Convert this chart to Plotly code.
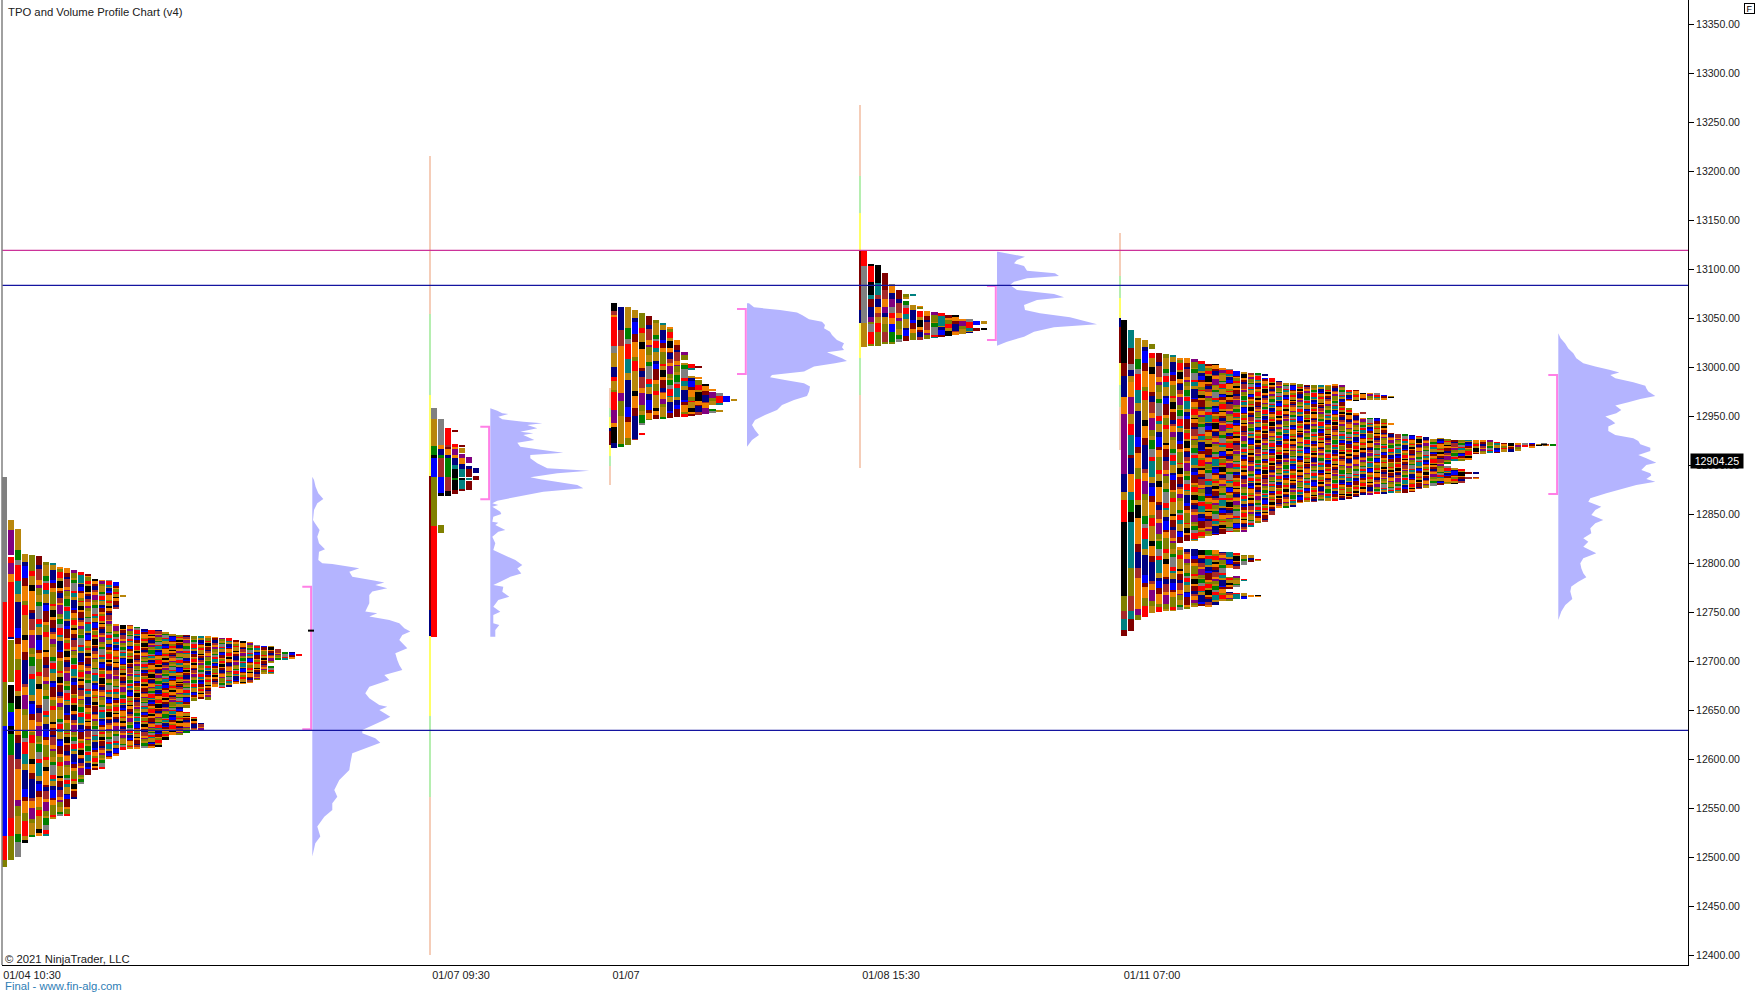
import plotly.graph_objects as go

# ---------- axis text ----------
title_text = "TPO and Volume Profile Chart (v4)"
copyright_text = "\u00a9 2021 NinjaTrader, LLC"
final_text = "Final - www.fin-alg.com"
time_labels = ["01/04 10:30", "01/07 09:30", "01/07", "01/08 15:30", "01/11 07:00"]
time_ticks = [32, 461, 626, 891, 1152]
last_price = 12904.25
level_magenta = 13119
level_blue = [13083.4, 12629.3]

# ---------- colours of TPO periods ----------
C = dict(k="#000000", t="#008080", m="#800000", b="#0000FF", w="#A52A2A", r="#FF0000", g="#B8860B",
         o="#F08000", p="#800080", l="#808000", n="#008000", a="#808080", v="#000080",
         S="#F5CDB8", G="#B5EEB0", Y="#FFFF66")
cycle = ["r", "g", "k", "o", "m", "v", "w", "o", "p", "l", "g", "n", "a", "r", "t", "g", "v", "b", "m", "o", "l"]
stripe = [3, 2, 4, 1, 2.5, 5, 1.5, 3, 2, 6, 1, 2, 3.5, 1.5, 4, 2, 1, 3, 2.5, 1.5, 5, 2, 1]

# ---------- session start slots ----------
session_left = [0.7, 431, 611, 861, 1121]

# ---------- TPO column extents: [hi, lo, hi, lo, ...] in price ----------
p1_cols = [
 [12888,12489.5],[12844,12497],[12835,12500.4],[12809,12515],[12808,12521],[12807,12521],[12801.4,12521],
 [12800,12539.5],[12796,12542],[12795,12542],[12793,12560],[12790.5,12575],[12789,12584],[12783,12589],
 [12783,12590],[12783,12601],[12781,12754,12738,12604],[12767,12766,12737,12609],[12737,12611],[12735,12611],
 [12733,12612],[12732,12612],[12731,12613],[12730,12619],[12728,12625],[12727,12625],[12727,12653,12648,12627],
 [12726,12660,12643,12630],[12725.5,12662,12636,12630],[12725,12660],[12724,12673],[12723,12673],[12723,12674],
 [12721,12677],[12720,12677],[12719,12678],[12716,12681],[12715,12687],[12715,12698,12695,12687],[12712,12702],
 [12709.5,12702],[12709.5,12703],[12707,12706]]
p1_first = {0: [(12888,12760,"a"),(12760,12679,"r"),(12679,12634,"l"),(12634,12521.5,"b"),(12521.5,12497,"r"),(12497,12489.5,"l")],
 1: [(12844,12833.7,"g"),(12833.7,12808,"p"),(12806,12800,"r"),(12800,12789,"p"),(12789,12781,"o"),(12781,12725,"r"),
     (12725,12722.5,"v"),(12721.5,12679,"l"),(12675.5,12657,"k"),(12657,12648,"n"),(12648,12634,"b"),(12634,12626,"k"),
     (12626,12604,"n"),(12604,12540,"w"),(12540,12521.5,"r"),(12521.5,12497,"l")]}
p2_first = {0: [(12958,12947,"a"),(12947,12919,"g"),(12919,12910,"n"),(12910,12907,"k"),(12907,12888,"b"),(12888,12838,"l"),(12838,12725,"r")],
 1: [(12947,12920,"a"),(12920,12916,"o"),(12916,12910,"v"),(12910,12907,"n"),(12907,12888,"w"),(12888,12871,"b"),(12871,12868,"k"),(12839,12831,"l")],
 2: [(12938,12920,"r"),(12920,12918,"w"),(12918,12916,"m"),(12916,12910,"o"),(12910,12907,"v"),(12907,12888,"n"),(12888,12873,"w"),(12873,12868,"k")],
 3: [(12935,12934,"m"),(12921.4,12918,"r"),(12918,12916,"o"),(12916,12910,"p"),(12910,12907,"o"),(12907,12900,"v"),(12900,12896,"t"),(12896,12886,"k"),(12886,12885,"n"),(12885,12874,"k"),(12874,12870.4,"m")],
 4: [(12920,12919,"m"),(12917,12912,"g"),(12911,12907,"p"),(12907,12901,"o"),(12901,12896,"v"),(12896,12888,"t"),(12887,12885,"k"),(12885,12876,"t"),(12876,12874,"m")],
 5: [(12908,12902,"p"),(12899,12896,"v"),(12896,12888,"m"),(12887,12885,"t"),(12884,12875,"m")],
 6: [(12897,12892,"v"),(12889,12885,"m")]}
p2_cols = [[0,0]] * 7
p3_cols = [
 [13065.7,12917.7],[13061.6,12918.7],[13061,12920.5],[13058,12925.6],[13055.5,12941,12933,12930.3],[13052,12946],
 [13048,12946.6],[13045,12947.7],[13041,12947.7],[13027.6,12948.7],[13015.7,13007,13004,12950],[13003,12997,12991,12951],
 [13001,12999.7,12989.5,12988.5,12986.8,12951],[12982.7,12952],[12978,12976,12974,12961,12957,12953.4],
 [12973,12961,12956,12954.5],[12970.4,12964],[12967.4,12965.3]]
p3_first = {0: [(13065.7,13057.5,"k"),(13057.5,13053,"w"),(13053,13051.4,"o"),(13051.4,13021.5,"r"),(13021.5,13014,"a"),(13014,12999.7,"g"),
     (12999.7,12990,"v"),(12990,12986,"r"),(12986,12976.6,"g"),(12976.6,12974,"l"),(12974,12956,"r"),(12956,12943,"p"),(12943,12938.5,"o"),(12938.5,12922,"k"),(12922,12917.7,"v")]}
p4_cols = [
 [13118.7,13020.8],[13105,13021.4],[13104,13021.4],[13096,13023.5],[13084.7,13024],[13079,13025.9],[13074.5,13069,13067.4,13026.9],
 [13074.5,13072.8,13063,13027.6],[13062,13060,13057,13028],[13057,13029],[13056,13030.3],[13055,13031],[13053,13031.7],
 [13053,13032.7],[13049,13033.7],[13048.7,13035],[13047,13043,13040,13037],[13047,13044,13039.8,13037.8]]
p4_first = {0: [(13118.7,13103,"r"),(13103,13044.5,"a"),(13044.5,13020.8,"g")],
 1: [(13105.2,13103.1,"k"),(13103.1,13086.8,"r"),(13086.8,13073.5,"k"),(13073.5,13069.1,"t"),(13069.1,13061.6,"m"),(13061.6,13050.8,"v"),(13050.8,13046.3,"p"),(13046.3,13044,"l"),(13044,13036.1,"a"),(13036.1,13022.5,"r"),(13022.5,13021.5,"l")],
 2: [(13104.1,13086.1,"k"),(13086.1,13073.5,"t"),(13073.5,13069.1,"w"),(13069.1,13061.6,"v"),(13061.6,13055.5,"o"),(13055.5,13050.8,"w"),(13050.8,13045.3,"g"),(13044.5,13036.1,"r"),(13036.1,13021.5,"l")],
 3: [(13095.6,13078.6,"m"),(13078.6,13069.1,"w"),(13069.1,13061.6,"o"),(13061.6,13054.8,"p"),(13054.8,13050.8,"v"),(13050.8,13044,"g"),(13044,13036.1,"l"),(13036.1,13025.9,"w"),(13025.9,13023.2,"l")],
 4: [(13084.8,13082.7,"a"),(13082.7,13075.2,"o"),(13075.2,13069.1,"v"),(13069.1,13061.6,"p"),(13061.6,13055.5,"a"),(13055.5,13049.7,"r"),(13049.7,13044,"o"),(13044,13036.1,"b"),(13035.5,13025.9,"n"),(13025.9,13023.5,"l")]}
p5_cols = [
 [13048,12725.6],[13037.8,12731],[13030,12742],[13028,12744.6],[13023.5,13018,13014,12748.7],[13014,12750.4],[13013,12751.4],
 [13012,12751.4],[13009,12820,12816,12752.8],[13009,12822,12814,12753.8],[13008,12823,12814,12755.5],[13006,12826,12813,12756],
 [13003,12828,12813,12756],[13003,12828.6,12813,12757],[12999,12830,12811.6,12762],[12998,12832,12811.6,12794.6,12786,12774,12770.8,12762],
 [12996,12832,12810.6,12794.6,12786,12776,12769.8,12763],[12995,12832,12808,12798,12783.4,12782,12769,12764],
 [12994,12837,12808,12801.4,12767.4,12765.7],[12993.6,12841,12803.8,12802.4,12767.4,12765.7],[12993,12990.9,12988.5,12842],
 [12988.5,12849],[12985,12856],[12984,12857],[12984,12857.5],[12983,12861.6],[12981.7,12862.6],[12981.7,12862.6],[12981.7,12863.7],
 [12981.7,12863.7],[12981.7,12863.7],[12980.7,12865],[12977,12965.7,12957.9,12866],[12976.6,12965.7,12953.4,12867.7],
 [12973.8,12966.4,12953.4,12952.4,12947.7,12869.4],[12973,12967,12947.7,12869.4],[12972.5,12967,12947.7,12870.5],
 [12971.5,12967,12946.6,12871],[12970.5,12968.8,12942.6,12941.5,12932,12871.8],[12931.3,12871.8],[12931.3,12871.8],[12930.7,12872.8],
 [12929.6,12876],[12928.3,12877],[12927,12878.6],[12927,12879.6],[12927,12901.8,12898.4,12880.7],[12926,12904.5,12896.7,12880.7],
 [12926,12905,12895,12882],[12925.6,12905.8,12892,12890.9,12887.5,12886],[12926,12912,12892,12890.9,12887.5,12886],[12925.6,12912],
 [12924.9,12912.6],[12923,12912.6],[12922,12913.7],[12922,12913.7],[12922,12915],[12922,12918],[12922,12918],[12921,12919.8],[12921,12919.8],[12921,12920.4]]
p5_first = {0: [(13048,13003.8,"k"),(13003.8,12990.9,"m"),(12990.9,12969.8,"v"),(12969.8,12952,"o"),(12952,12890.9,"p"),(12890.9,12872.8,"v"),
     (12872.8,12864,"g"),(12864,12842,"r"),(12842,12766.4,"k"),(12766.4,12751.4,"l"),(12751.4,12743,"w"),(12743,12731.7,"t"),(12731.7,12725.6,"m")],
 1: [(13037.8,13019,"t"),(13019,13003,"m"),(13003,12997,"a"),(12997,12990.9,"v"),(12990.9,12985,"g"),(12985,12969.8,"o"),(12969.8,12952,"p"),
     (12952,12941.9,"g"),(12941.9,12930.7,"r"),(12930.7,12910,"t"),(12910,12907.5,"m"),(12907.5,12890.9,"v"),(12890.9,12872.8,"o"),
     (12872.8,12864,"t"),(12864,12852.4,"n"),(12852.4,12842,"k"),(12842,12794.6,"t"),(12794.6,12766.4,"l"),(12766.4,12751.4,"w"),(12751.4,12743,"t"),(12743,12731,"m")]}

profile_cols = [p1_cols, p2_cols, p3_cols, p4_cols, p5_cols]
profile_first = [p1_first, p2_first, p3_first, p4_first, p5_first]
profile_min_stripe = [0.75, 2, 1.8, 1.6, 0.75]

# ---------- session bands: (hi, lo, colour) ----------
band_x = [430, 610, 860, 1120]
band_segments = [
 [(13215,13054,"S"),(13054,12971.5,"G"),(12971.5,12889,"Y"),(12889,12752,"m"),(12752,12725.5,"v"),(12725.5,12644,"Y"),(12644,12561,"G"),(12561,12400,"S")],
 [(12979,12958,"S"),(12958,12949,"G"),(12949,12938,"Y"),(12938,12935,"v"),(12935,12920,"m"),(12920,12909,"Y"),(12909,12899,"G"),(12899,12880,"S")],
 [(13267.4,13194.9,"S"),(13194.9,13157,"G"),(13157,13119.4,"Y"),(13119.4,13058.2,"m"),(13058.2,13044.9,"v"),(13044.9,13009.2,"Y"),(13009.2,12971.4,"G"),(12971.4,12897,"S")],
 [(13136.7,13092.9,"S"),(13092.9,13070.4,"G"),(13070.4,13050,"Y"),(13050,13040.8,"v"),(13040.8,13004,"m"),(13004,12981.6,"Y"),(12981.6,12959.2,"G"),(12959.2,12915.3,"S")],
]

# ---------- volume profiles ----------
vp_base = [312.3, 490.3, 747, 997, 1558.3]
vp1_price = [12888.1,12884.7,12877.9,12871.1,12865.3,12860.9,12854.1,12843.9,12840.5,12833.7,12826.9,12820.1,12814,12811.6,12803.1,12799.7,12799,12797,12794.6,12791.2,12786.1,12782,12780,12777.6,12774.2,12770.8,12767.4,12758.9,12750.4,12748.7,12745.3,12741.9,12738.4,12733.3,12730,12726.5,12721.4,12712.9,12707.8,12701,12695.9,12690.8,12685.7,12680.6,12673.8,12667,12661.9,12655.1,12653.4,12650,12643.2,12639.8,12633,12629.6,12626.2,12621.1,12616.7,12612.6,12605.8,12595.6,12588.8,12578.6,12568.4,12561.6,12554.8,12548,12541.2,12531,12520.8,12514,12500.4]
vp1_vol = [0,1.7,3.3,6,11,5,1.7,0.7,2.7,7.3,5,6.7,12.7,6.7,6,10,20,33,47,37,40,63,72,63,75,60,57,57,53,65,57,77,87,92,98,90,87,95,83,85,87,90,72,77,57,53,57,67,75,67,78,72,57,50,50,63,68,57,40,38,37,27,22,25,20,20,12,5,8,3,0]
vp2_price = [12957.8,12955.4,12952.7,12952,12949.3,12946.6,12944.2,12942.5,12940.8,12937.4,12934,12932.3,12930.6,12925.5,12922.8,12918.7,12916,12912.6,12910.2,12906.8,12901.7,12896.6,12894.2,12891.5,12887.4,12885.4,12879.6,12876.2,12872.8,12867.7,12863.6,12860.9,12859.2,12857.5,12852.4,12850,12847.3,12842.2,12841.1,12838.8,12833.7,12832,12826.9,12820.1,12813.3,12809.9,12803,12797.9,12794.5,12789.4,12786,12780.9,12777.5,12775.8,12770.7,12765.6,12762.2,12755.4,12750.3,12746.9,12738.4,12736.7,12731.6,12724.8]
vp2_vol = [0,7,12,18,8,12,33,52,37,47,30,43,33,44,27,30,47,73,40,40,47,57,99,67,40,50,87,93,53,27,7,2,8,2,10,11,3,2,8,5,15,8,2,5,3,10,25,32,27,31,20,10,3,13,12,19,8,3,10,3,3,9,5,5]
vp3_price = [13065,13060.9,13058.2,13055.5,13053.1,13048.7,13046.3,13042.9,13039.5,13036.1,13032.7,13027.6,13024.2,13020.1,13017.4,13015,13012.3,13008.9,13006.2,13003.8,13000.4,12995.3,12991.9,12989.5,12986.8,12983.4,12980,12974.9,12970.4,12966.4,12961.3,12956.2,12951.1,12946,12940.9,12935.8,12930.6,12925.6,12918.7]
vp3_vol = [2,7,33,50,55,62,75,78,77,83,85,90,97,95,97,80,87,95,100,88,67,57,25,23,38,57,63,62,60,47,35,30,18,8,5,8,12,5,0]
vp4_price = [13117.7,13115.3,13112.6,13109.2,13105.8,13103.1,13098.3,13095.6,13092.9,13090.5,13087.1,13083.7,13078.6,13074.5,13071.1,13068.4,13063.3,13058.2,13054.8,13050.7,13046.3,13043.6,13040.5,13036.1,13031,13025.9,13021.8]
vp4_vol = [1,13,28,20,17,27,30,58,62,30,17,13,20,57,67,40,27,28,43,73,90,100,57,37,27,10,0]
vp5_price = [13034.4,13029.3,13024.2,13019,13014,13008.9,13003.8,13000.4,12997,12994.3,12991.9,12988.5,12984.4,12981,12978.3,12974.9,12970.5,12967.4,12964,12960.6,12956.2,12952.8,12949.4,12946,12942.6,12939.2,12934.8,12930.7,12927.3,12924.5,12921.2,12917.7,12914.3,12910.3,12906.9,12902.4,12900,12895,12891.6,12889.2,12885.8,12883,12879.7,12876.3,12871.1,12866,12862.6,12857.5,12854.1,12849,12844,12840.5,12835.4,12830.3,12825.2,12821.8,12816.7,12809.9,12804.8,12799.7,12794.6,12789.5,12785.4,12781,12775.9,12770.8,12763.3,12757.2,12750.4,12741.9,12736.8]
vp5_vol = [0,2.3,6.7,10,15,18,25,37,52,61,52,57,75,87,88,90,97,82,70,57,63,58,47,53,57,50,50,57,75,80,82,92,92,80,88,98,88,83,92,93,88,97,78,65,48,32,30,43,37,33,45,37,32,33,25,30,25,38,25,22,23,25,28,20,13,12,14,7,3,0,0]
vp_prices = [vp1_price, vp2_price, vp3_price, vp4_price, vp5_price]
vp_vols = [vp1_vol, vp2_vol, vp3_vol, vp4_vol, vp5_vol]
value_high = [12775.8, 12939, 13059.2, 13082.7, 12991.9]
value_low = [12630.3, 12865, 12992.9, 13027.6, 12870.5]
poc_x0 = [308, 1541]
poc_x1 = [314, 1547]
poc_price = [12731, 12921]

SPACING = 7.03
CELL = 6.2

fig = go.Figure()

# session bands
bx, bb, bh, bc = [], [], [], []
for x, segs in zip(band_x, band_segments):
    for hi, lo, col in segs:
        bx.append(x); bb.append(lo); bh.append(hi - lo); bc.append(C[col])
fig.add_trace(go.Bar(x=bx, y=bh, base=bb, width=2.6, marker=dict(color=bc, line_width=0), hoverinfo="skip"))

# TPO cells
for left, cols, first, minst in zip(session_left, profile_cols, profile_first, profile_min_stripe):
    xs, base, hgt, col = [], [], [], []
    for k in sorted(set(range(len(cols))) | set(first)):
        xc = left + k * SPACING + CELL / 2
        if k in first:
            for hi, lo, c in first[k]:
                xs.append(xc); base.append(lo); hgt.append(hi - lo); col.append(C[c])
            continue
        rng = cols[k]
        scale = max(minst, 16 / (k + 1))
        i, c = k * 7, k * 5
        for a in range(0, len(rng), 2):
            p, lo = rng[a], rng[a + 1]
            while p > lo:
                q = max(p - stripe[i % len(stripe)] * scale, lo)
                xs.append(xc); base.append(q); hgt.append(p - q); col.append(C[cycle[c % len(cycle)]])
                p = q; i += 1; c += 1
    fig.add_trace(go.Bar(x=xs, y=hgt, base=base, width=CELL, marker=dict(color=col, line_width=0), hoverinfo="skip"))

# volume profiles and value-area brackets
for xb, pr, vol, vh, vl in zip(vp_base, vp_prices, vp_vols, value_high, value_low):
    fig.add_trace(go.Scatter(x=[xb] + [xb + v for v in vol] + [xb], y=[pr[0]] + pr + [pr[-1]], mode="lines", fill="toself",
                             fillcolor="#B4B4FF", line=dict(width=0), hoverinfo="skip"))
    fig.add_trace(go.Scatter(x=[xb - 10, xb - 1.2, xb - 1.2, xb - 10], y=[vh, vh, vl, vl], mode="lines",
                             line=dict(color="#FF80E6", width=2), hoverinfo="skip"))
for x0, x1, pr in zip(poc_x0, poc_x1, poc_price):
    fig.add_trace(go.Scatter(x=[x0, x1], y=[pr, pr], mode="lines", line=dict(color="black", width=2), hoverinfo="skip"))

# last-price pointer
fig.add_trace(go.Scatter(x=[1692], y=[last_price], mode="markers", cliponaxis=False,
                         marker=dict(symbol="triangle-left", size=9, color="black"), hoverinfo="skip"))

shapes = [dict(type="line", xref="paper", x0=0, x1=1, yref="y", y0=level_magenta, y1=level_magenta, line=dict(color="#CC3399", width=1.3))]
for lv in level_blue:
    shapes.append(dict(type="line", xref="paper", x0=0, x1=1, yref="y", y0=lv, y1=lv, line=dict(color="#1414A0", width=1.3)))
shapes.append(dict(type="line", xref="paper", x0=0, x1=0, yref="paper", y0=0, y1=1, line=dict(color="#808080", width=1.5)))

def ann(text, x, y, size=11.3, color="#202020", **kw):
    return dict(text=text, xref="paper", yref="paper", x=(x - 2) / 1686, y=1 - y / 965, xanchor="left", yanchor="middle",
                showarrow=False, font=dict(family="Liberation Sans, Arial", size=size, color=color), **kw)

annotations = [
    ann(title_text, 6, 12),
    ann(copyright_text, 3, 959),
    ann(final_text, 3, 986, color="#2E7DB5"),
    dict(text="F", xref="paper", yref="paper", x=(1749.5 - 2) / 1686, y=1 - 8.5 / 965,
         xanchor="center", yanchor="middle", showarrow=False, font=dict(family="Liberation Sans, Arial", size=9, color="black"),
         bordercolor="black", borderwidth=1, borderpad=0, width=9, height=9),
    dict(text=f"{last_price:.2f}", xref="paper", yref="y", x=(1717 - 2) / 1686, y=last_price, xanchor="center", yanchor="middle",
         showarrow=False, font=dict(family="Liberation Sans, Arial", size=10.7, color="white"), bgcolor="black", borderpad=1, width=50, height=12),
]

fig.update_layout(
    width=1756, height=995, margin=dict(l=2, r=68, t=0, b=30, autoexpand=False), showlegend=False,
    paper_bgcolor="white", plot_bgcolor="white", barmode="overlay", bargap=0,
    xaxis=dict(range=[2, 1688], tickmode="array", tickvals=time_ticks, ticktext=time_labels, ticks="", showgrid=False, zeroline=False,
               showline=True, linecolor="black", linewidth=1, tickfont=dict(family="Liberation Sans, Arial", size=10.9, color="#202020")),
    yaxis=dict(range=[12389.8, 13374.5], side="right", tick0=12400, dtick=50, tickformat=".2f", ticks="outside", ticklen=5, tickcolor="black",
               showgrid=False, zeroline=False, showline=True, linecolor="black", linewidth=1,
               tickfont=dict(family="Liberation Sans, Arial", size=10.5, color="#202020")),
    shapes=shapes, annotations=annotations,
)

fig.write_html("out.html", config={"displayModeBar": False},
               post_script="document.body.style.margin='0';document.body.style.overflow='hidden';")
